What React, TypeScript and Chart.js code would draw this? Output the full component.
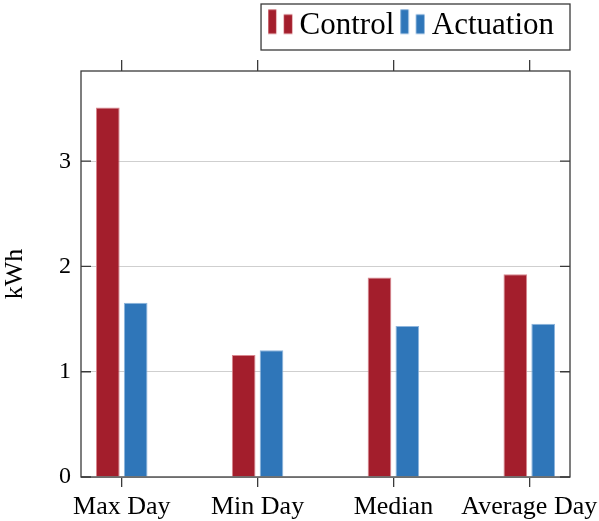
import React, { useEffect, useRef } from "react";
import { Chart, registerables } from "chart.js";

Chart.register(...registerables);

const categories = ["Max Day", "Min Day", "Median", "Average Day"];
const controlValues = [3.51, 1.16, 1.895, 1.925];
const actuationValues = [1.655, 1.205, 1.435, 1.455];
const yTickValues = [0, 1, 2, 3];
const seriesNames = ["Control", "Actuation"];

const RED = "#A31E2C";
const RED_EDGE = "#D9878F";
const BLUE = "#2F76B9";
const BLUE_EDGE = "#8DB5DD";
const FRAME = "#3a3a3a";
const FONT = "'Liberation Serif', 'Times New Roman', serif";

function legendIcon(fill: string, edge: string): HTMLCanvasElement {
  const c = document.createElement("canvas");
  c.width = 30;
  c.height = 34;
  const ctx = c.getContext("2d")!;
  const bottom = 25.5;
  const bars = [
    { x: 5, w: 8.5, top: 0.8 },
    { x: 20.5, w: 9, top: 5.8 },
  ];
  for (const b of bars) {
    ctx.fillStyle = edge;
    ctx.fillRect(b.x, b.top, b.w, bottom - b.top);
    ctx.fillStyle = fill;
    ctx.fillRect(b.x + 0.6, b.top + 0.6, b.w - 1.2, bottom - b.top - 1.2);
  }
  return c;
}

const framePlugin = {
  id: "framePlugin",
  afterLayout(chart: any) {
    if (chart.legend) {
      chart.legend.right -= 6;
    }
  },
  afterDraw(chart: any) {
    const { ctx, chartArea } = chart;
    const { left, right, top, bottom } = chartArea;
    const y = chart.scales.y;
    ctx.save();
    ctx.strokeStyle = FRAME;
    ctx.lineWidth = 1.3;
    ctx.strokeRect(left, top, right - left, bottom - top);
    ctx.beginPath();
    for (const v of yTickValues) {
      const py = y.getPixelForValue(v);
      ctx.moveTo(left, py);
      ctx.lineTo(left + 10, py);
      ctx.moveTo(right - 10, py);
      ctx.lineTo(right, py);
    }
    ctx.stroke();
    const hb = chart.legend && chart.legend.legendHitBoxes;
    if (hb && hb.length) {
      const last = hb[hb.length - 1];
      const bl = hb[0].left - 11;
      const br = last.left + last.width + 16;
      const bt = hb[0].top - 6;
      const bb = hb[0].top + 40;
      ctx.lineWidth = 1.3;
      ctx.strokeRect(bl, bt, br - bl, bb - bt);
    }
    ctx.restore();
  },
};

export default function App() {
  const ref = useRef<HTMLCanvasElement | null>(null);

  useEffect(() => {
    if (!ref.current) return;
    const icons = [legendIcon(RED, RED_EDGE), legendIcon(BLUE, BLUE_EDGE)];
    const chart = new Chart(ref.current, {
      type: "bar",
      data: {
        datasets: [
          {
            label: seriesNames[0],
            data: controlValues.map((v, i) => ({ x: i, y: v })),
            backgroundColor: RED,
            borderColor: RED_EDGE,
            borderWidth: 1,
            categoryPercentage: 0.41,
            barPercentage: 0.85,
          },
          {
            label: seriesNames[1],
            data: actuationValues.map((v, i) => ({ x: i, y: v })),
            backgroundColor: BLUE,
            borderColor: BLUE_EDGE,
            borderWidth: 1,
            categoryPercentage: 0.41,
            barPercentage: 0.85,
          },
        ],
      },
      options: {
        responsive: false,
        animation: false,
        layout: { padding: { left: 0, right: 29, top: 0, bottom: 0 } },
        plugins: {
          tooltip: { enabled: false },
          legend: {
            display: true,
            position: "top",
            align: "end",
            labels: {
              usePointStyle: true,
              pointStyleWidth: 12,
              padding: 10,
              color: "#000",
              font: { family: FONT, size: 31 },
              generateLabels: () =>
                seriesNames.map((name, i) => ({
                  text: name,
                  pointStyle: icons[i],
                  fillStyle: i === 0 ? RED : BLUE,
                  strokeStyle: "rgba(0,0,0,0)",
                  lineWidth: 0,
                  datasetIndex: i,
                  hidden: false,
                })),
            },
          },
        },
        scales: {
          x: {
            type: "linear",
            position: "bottom",
            min: -0.3,
            max: 3.3,
            offset: false,
            afterFit: (s: any) => {
              s.height = 44;
              s.paddingLeft = 0;
              s.paddingRight = 0;
            },
            grid: {
              display: true,
              offset: false,
              drawOnChartArea: false,
              drawTicks: true,
              tickLength: 10,
              color: FRAME,
              lineWidth: 1.3,
            },
            border: { display: false },
            ticks: {
              stepSize: 1,
              includeBounds: false,
              autoSkip: false,
              maxRotation: 0,
              padding: 5,
              color: "#000",
              font: { family: FONT, size: 26 },
              callback: (v: any) => categories[Number(v)] ?? "",
            },
          },
          x2: {
            type: "linear",
            position: "top",
            min: -0.3,
            max: 3.3,
            offset: false,
            afterFit: (s: any) => {
              s.height = 20;
              s.paddingLeft = 0;
              s.paddingRight = 0;
            },
            grid: {
              display: true,
              offset: false,
              drawOnChartArea: false,
              drawTicks: true,
              tickLength: 11,
              color: FRAME,
              lineWidth: 1.3,
            },
            border: { display: false },
            ticks: {
              stepSize: 1,
              includeBounds: false,
              display: false,
            },
          },
          y: {
            type: "linear",
            position: "left",
            min: 0,
            max: 3.857,
            afterFit: (s: any) => {
              s.width = 81;
            },
            grid: {
              display: true,
              drawOnChartArea: true,
              drawTicks: false,
              color: "#cfcfcf",
              lineWidth: 1,
            },
            border: { display: false },
            ticks: {
              stepSize: 1,
              includeBounds: false,
              padding: 10,
              color: "#000",
              font: { family: FONT, size: 24 },
            },
            title: {
              display: true,
              text: "kWh",
              color: "#000",
              padding: 0,
              font: { family: FONT, size: 26 },
            },
          },
        },
      },
      plugins: [framePlugin],
    });
    return () => chart.destroy();
  }, []);

  return (
    <div style={{ position: "absolute", left: 0, top: 0, width: 599, height: 521 }}>
      <canvas ref={ref} width={599} height={521} style={{ display: "block" }} />
    </div>
  );
}
